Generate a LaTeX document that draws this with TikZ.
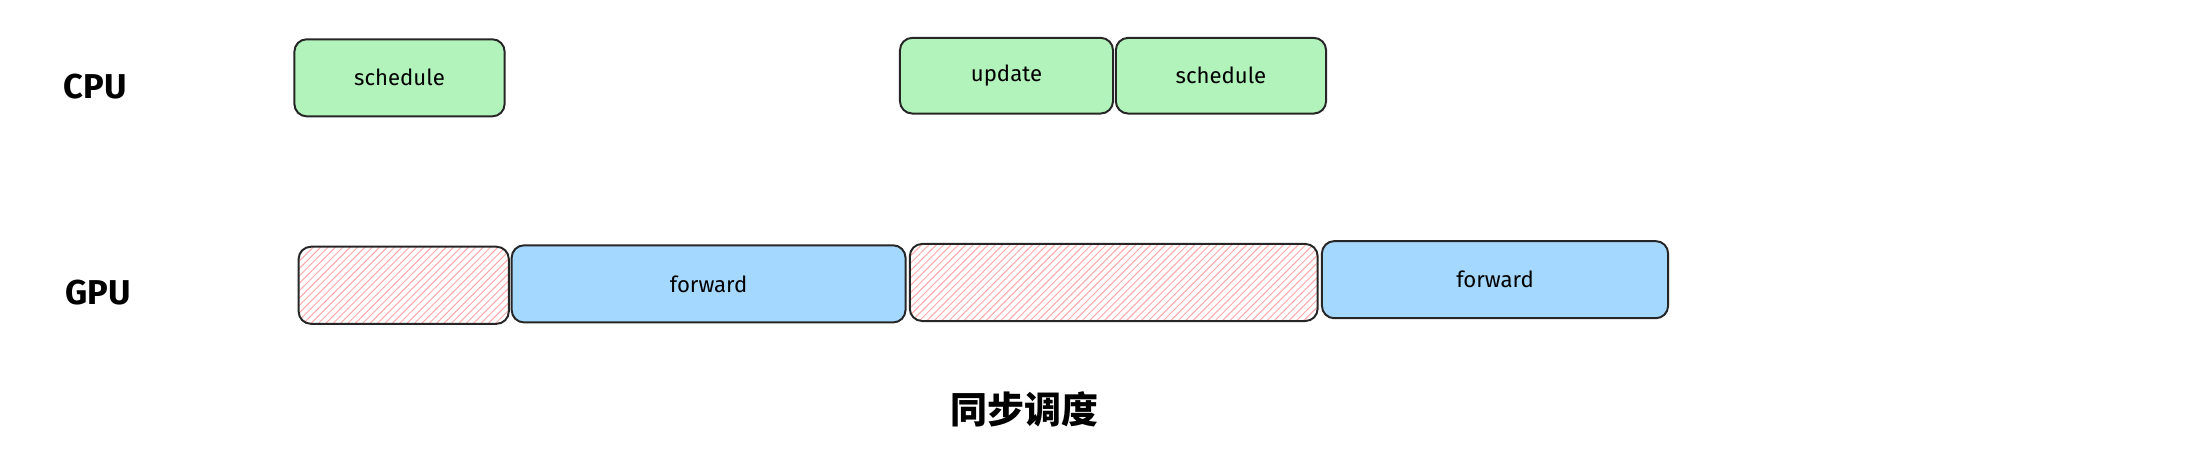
\documentclass[tikz,border=0pt]{standalone}
\usepackage{fontspec}
\setmainfont{Fira Sans}
\newfontfamily\cjk{Noto Sans CJK SC}
\usetikzlibrary{patterns}
\definecolor{cpugreen}{HTML}{B2F2BB}
\definecolor{gpublue}{HTML}{A5D8FF}
\definecolor{idlered}{HTML}{FFA8A8}
\tikzset{
  task/.style={draw=black!85, thick, rounded corners=5pt, inner sep=0pt, font=\fontsize{9}{11}\selectfont},
  cpu/.style={task, fill=cpugreen},
  gpu/.style={task, fill=gpublue},
  idle/.style={task, pattern=north east lines, pattern color=idlered},
  lane/.style={font=\fontsize{14}{16}\selectfont\bfseries}
}
\begin{document}
\begin{tikzpicture}[x=0.02cm,y=-0.02cm]
\useasboundingbox (0,0) rectangle (1568,326);

\node[lane] (cpulabel) at (68,62) {CPU};
\node[lane] (gpulabel) at (70,209) {GPU};

\node[cpu, minimum width=3cm, minimum height=1.1cm] (sched1) at (285,55.5) {schedule};
\node[cpu, minimum width=3.04cm, minimum height=1.08cm] (update) at (718,54) {update};
\node[cpu, minimum width=3cm, minimum height=1.08cm] (sched2) at (871,54) {schedule};

\node[idle, minimum width=3cm, minimum height=1.1cm] (wait1) at (288,203.5) {};
\node[gpu, minimum width=5.62cm, minimum height=1.1cm] (fwd1) at (505.5,202.5) {forward};
\node[idle, minimum width=5.82cm, minimum height=1.1cm] (wait2) at (794.5,201.5) {};
\node[gpu, minimum width=4.94cm, minimum height=1.1cm] (fwd2) at (1066.5,199.5) {forward};

\node[font=\cjk\bfseries\fontsize{15}{18}\selectfont] (title) at (731,292) {同步调度};
\end{tikzpicture}
\end{document}
